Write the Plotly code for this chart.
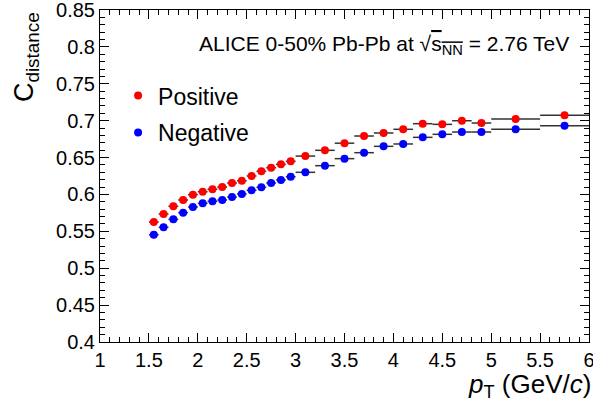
import plotly.graph_objects as go

pt = [1.55, 1.65, 1.75, 1.85, 1.95, 2.05, 2.15, 2.25, 2.35, 2.45, 2.55, 2.65, 2.75, 2.85, 2.95,
      3.1, 3.3, 3.5, 3.7, 3.9, 4.1, 4.3, 4.5, 4.7, 4.9, 5.25, 5.75]
pt_halfwidth = [0.05] * 15 + [0.1] * 10 + [0.25] * 2

positive = [0.5626, 0.5735, 0.584, 0.5925, 0.5997, 0.6037, 0.607, 0.610, 0.6155, 0.6186,
            0.625, 0.6314, 0.6362, 0.6408, 0.6449, 0.652, 0.6598, 0.6695, 0.6792, 0.6833,
            0.6883, 0.6959, 0.695, 0.6999, 0.6968, 0.7022, 0.7073]
negative = [0.5454, 0.5555, 0.5663, 0.5753, 0.583, 0.588, 0.5907, 0.5925, 0.5965, 0.6006,
            0.6056, 0.6097, 0.6155, 0.6196, 0.624, 0.630, 0.639, 0.6485, 0.6566, 0.6652,
            0.6684, 0.6774, 0.6815, 0.6846, 0.6846, 0.6883, 0.6932]

FONT = "Liberation Sans, Arial, Helvetica, sans-serif"

fig = go.Figure()
for name, vals, col, grp in [("Positive", positive, "#ff0000", "a"),
                             ("Negative", negative, "#0000ff", "b")]:
    fig.add_trace(go.Scatter(
        x=pt, y=vals, mode="markers", name=name, legendgroup=grp,
        marker=dict(color=col, size=8, symbol="circle", line=dict(width=0)),
        error_x=dict(type="data", array=pt_halfwidth, symmetric=True,
                     width=0, thickness=1.5, color="#333333"),
    ))

axis_common = dict(showline=True, linecolor="black", linewidth=1, mirror="allticks",
                   ticks="inside", ticklen=9, tickcolor="black", tickwidth=1,
                   showgrid=False, zeroline=False, automargin=False,
                   ticklabeloverflow="allow",
                   tickfont=dict(family=FONT, size=20, color="black"))

fig.update_xaxes(range=[1, 6], dtick=0.5, tick0=1,
                 minor=dict(ticks="inside", ticklen=5, dtick=0.1, tickcolor="black", showgrid=False),
                 **axis_common)
fig.update_yaxes(range=[0.4, 0.85], dtick=0.05, tick0=0.4,
                 minor=dict(ticks="inside", ticklen=5, dtick=0.01, tickcolor="black", showgrid=False),
                 **axis_common)

fig.add_annotation(xref="paper", yref="paper", x=1.008, y=-0.13, xanchor="right", yanchor="middle",
                   text="<i>p</i><sub>T</sub> (GeV/<i>c</i>)", showarrow=False,
                   font=dict(family=FONT, size=26, color="black"))
fig.add_annotation(xref="paper", yref="paper", x=-0.19, y=1.0, xanchor="left", yanchor="top",
                   textangle=-90, text="C<sub>distance</sub>", showarrow=False,
                   font=dict(family=FONT, size=27, color="black"))
fig.add_annotation(xref="paper", yref="paper", x=0.963, y=0.895, xanchor="right", yanchor="middle",
                   text="ALICE 0-50% Pb-Pb at √<span style='text-decoration:overline'>s<sub>NN</sub></span> = 2.76 TeV",
                   showarrow=False, font=dict(family=FONT, size=21, color="black"))

fig.update_layout(
    width=593, height=405,
    margin=dict(l=100, r=4, t=10, b=63),
    plot_bgcolor="white", paper_bgcolor="white",
    showlegend=True,
    legend=dict(x=0.037, y=0.807, xanchor="left", yanchor="top", bgcolor="rgba(0,0,0,0)",
                font=dict(family=FONT, size=23, color="black"), tracegroupgap=4,
                itemwidth=30),
)

fig.write_html("out.html", config={"displayModeBar": False},
               post_script="document.body.style.margin='0';document.body.style.padding='0';")
